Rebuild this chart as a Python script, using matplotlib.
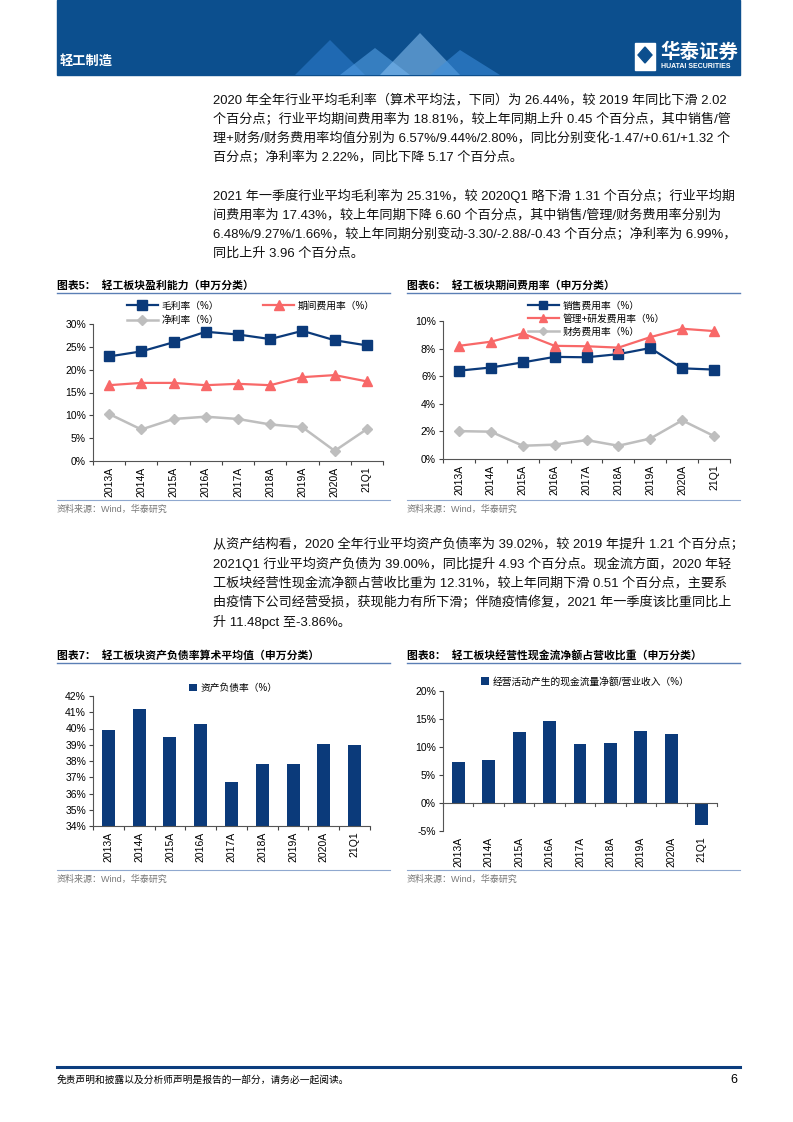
import matplotlib
matplotlib.use('Agg')
import matplotlib.pyplot as plt
from matplotlib.lines import Line2D
from matplotlib.patches import Polygon, Rectangle

plt.rcParams['font.family'] = ['Liberation Sans', 'Noto Sans CJK SC']
plt.rcParams['axes.unicode_minus'] = False

# 数据
years = ["2013A", "2014A", "2015A", "2016A", "2017A", "2018A", "2019A", "2020A", "21Q1"]
gross_margin = [22.9, 24.0, 26.0, 28.3, 27.7, 26.7, 28.5, 26.44, 25.31]
period_exp = [16.6, 17.1, 17.1, 16.6, 16.9, 16.6, 18.36, 18.81, 17.43]
net_margin = [10.3, 6.9, 9.2, 9.7, 9.2, 8.0, 7.39, 2.22, 6.99]
sales_exp = [6.4, 6.63, 7.0, 7.4, 7.37, 7.6, 8.04, 6.57, 6.48]
admin_rd_exp = [8.2, 8.5, 9.1, 8.2, 8.17, 8.07, 8.83, 9.44, 9.27]
fin_exp = [2.02, 1.98, 0.96, 1.04, 1.37, 0.96, 1.48, 2.80, 1.66]
debt_ratio = [39.88, 41.22, 39.45, 40.29, 36.71, 37.82, 37.81, 39.02, 39.00]
cash_ratio = [7.26, 7.68, 12.68, 14.58, 10.48, 10.65, 12.82, 12.31, -3.86]

para1 = ["2020 年全年行业平均毛利率（算术平均法，下同）为 26.44%，较 2019 年同比下滑 2.02",
         "个百分点；行业平均期间费用率为 18.81%，较上年同期上升 0.45 个百分点，其中销售/管",
         "理+财务/财务费用率均值分别为 6.57%/9.44%/2.80%，同比分别变化-1.47/+0.61/+1.32 个",
         "百分点；净利率为 2.22%，同比下降 5.17 个百分点。"]
para2 = ["2021 年一季度行业平均毛利率为 25.31%，较 2020Q1 略下滑 1.31 个百分点；行业平均期",
         "间费用率为 17.43%，较上年同期下降 6.60 个百分点，其中销售/管理/财务费用率分别为",
         "6.48%/9.27%/1.66%，较上年同期分别变动-3.30/-2.88/-0.43 个百分点；净利率为 6.99%，",
         "同比上升 3.96 个百分点。"]
para3 = ["从资产结构看，2020 全年行业平均资产负债率为 39.02%，较 2019 年提升 1.21 个百分点；",
         "2021Q1 行业平均资产负债为 39.00%，同比提升 4.93 个百分点。现金流方面，2020 年轻",
         "工板块经营性现金流净额占营收比重为 12.31%，较上年同期下滑 0.51 个百分点，主要系",
         "由疫情下公司经营受损，获现能力有所下滑；伴随疫情修复，2021 年一季度该比重同比上",
         "升 11.48pct 至-3.86%。"]

W, H = 793, 1122
NAVY = '#0B3A7A'
RED = '#F86868'
GRAY = '#BEBEBE'
LINEC = '#5B7FB5'

fig = plt.figure(figsize=(W / 100, H / 100), dpi=100)


def ax_px(l, t, r, b):
    return fig.add_axes([l / W, 1 - b / H, (r - l) / W, (b - t) / H])


def ftext(x, y, s, **kw):
    fig.text(x / W, 1 - y / H, s, **kw)


def hline(x0, x1, y, **kw):
    fig.add_artist(Line2D([x0 / W, x1 / W], [1 - y / H, 1 - y / H],
                          transform=fig.transFigure, **kw))


def style(ax, ylim, yticks):
    ax.set_xlim(-0.5, len(years) - 0.5)
    ax.set_ylim(*ylim)
    ax.set_yticks(yticks)
    ax.set_yticklabels([f'{v:.0f}%' for v in yticks], fontsize=7.5)
    ax.set_xticks(range(len(years)))
    ax.set_xticklabels(years, rotation=90, fontsize=7.5)
    ax.tick_params(axis='x', length=0, pad=4)
    ax.tick_params(axis='y', length=3, width=0.8, color='#444444', pad=2)
    ax.set_xticks([i - 0.5 for i in range(len(years) + 1)], minor=True)
    ax.tick_params(axis='x', which='minor', length=3, width=0.8, color='#444444')
    for s in ['top', 'right']:
        ax.spines[s].set_visible(False)
    for s in ['left', 'bottom']:
        ax.spines[s].set_color('#555555')
        ax.spines[s].set_linewidth(0.8)
    ax.patch.set_alpha(0)


# 页眉
fig.add_artist(Rectangle((57 / W, 1 - 75 / H), (740 - 57) / W, 75 / H,
                         transform=fig.transFigure, color='#0C4F8E', zorder=0))
tri = [[(295, 75), (330, 40), (365, 75)], [(340, 75), (375, 48), (410, 75)],
       [(380, 75), (420, 33), (460, 75)], [(430, 75), (460, 50), (500, 75)]]
for k, pts in enumerate(tri):
    fig.add_artist(Polygon([(x / W, 1 - y / H) for x, y in pts], closed=True,
                           transform=fig.transFigure,
                           color=['#2F7FD0', '#5AA5EA', '#8CC4F5', '#3C8EDD'][k],
                           alpha=0.55, lw=0))
ftext(60, 61, '轻工制造', color='white', fontsize=9.5, fontweight='bold', va='center')
fig.add_artist(Rectangle((635 / W, 1 - 70 / H), 20 / W, 27 / H,
                         transform=fig.transFigure, color='white', zorder=2))
fig.add_artist(Polygon([(x / W, 1 - y / H) for x, y in [(645, 47), (652, 55), (645, 63), (638, 55)]],
                       transform=fig.transFigure, color='#0C4F8E', zorder=3))
ftext(660, 52, '华泰证券', color='white', fontsize=14, fontweight='bold', va='center')
ftext(661, 67, 'HUATAI SECURITIES', color='white', fontsize=5, fontweight='bold', va='center')

# 正文段落
for lines, y0 in [(para1, 100), (para2, 196), (para3, 545)]:
    for i, s in enumerate(lines):
        ftext(213, y0 + i * 19.3, s, fontsize=9.45, va='center', color='#111111')

# 图表标题与分隔线
titles = [(57, 285, '图表5：  轻工板块盈利能力（申万分类）'),
          (407, 285, '图表6：  轻工板块期间费用率（申万分类）'),
          (57, 655, '图表7：  轻工板块资产负债率算术平均值（申万分类）'),
          (407, 655, '图表8：  轻工板块经营性现金流净额占营收比重（申万分类）')]
for x, y, s in titles:
    ftext(x, y, s, fontsize=7.8, fontweight='bold', va='center')
for x0, x1 in [(57, 390), (407, 740)]:
    for y in [293, 663]:
        hline(x0, x1, y, color=LINEC, lw=1)
    for y in [500, 870]:
        hline(x0, x1, y, color='#8FA8CF', lw=0.8)
    for y in [509, 879]:
        ftext(x0, y, '资料来源：Wind，华泰研究', fontsize=6.5, color='#777777', va='center')

# 图表5
ax5 = ax_px(93, 324, 383, 461)
x = range(len(years))
h1, = ax5.plot(x, gross_margin, color=NAVY, lw=1.6, marker='s', ms=6.5, label='毛利率（%）')
h2, = ax5.plot(x, period_exp, color=RED, lw=1.6, marker='^', ms=6.5, label='期间费用率（%）')
h3, = ax5.plot(x, net_margin, color=GRAY, lw=1.8, marker='D', ms=5, label='净利率（%）')
style(ax5, (0, 30), [0, 5, 10, 15, 20, 25, 30])
fig.legend(handles=[h1, h3, h2], ncol=2, loc='upper left',
           bbox_to_anchor=(122 / W, 1 - 296 / H), frameon=False, fontsize=7,
           handlelength=3.2, columnspacing=4.5, labelspacing=0.45, borderpad=0,
           handletextpad=0.4)

# 图表6
ax6 = ax_px(443, 321, 730, 459)
g1, = ax6.plot(x, sales_exp, color=NAVY, lw=1.6, marker='s', ms=6.5, label='销售费用率（%）')
g2, = ax6.plot(x, admin_rd_exp, color=RED, lw=1.6, marker='^', ms=6.5, label='管理+研发费用率（%）')
g3, = ax6.plot(x, fin_exp, color=GRAY, lw=1.8, marker='D', ms=5, label='财务费用率（%）')
style(ax6, (0, 10), [0, 2, 4, 6, 8, 10])
fig.legend(handles=[g1, g2, g3], loc='upper left',
           bbox_to_anchor=(523 / W, 1 - 296 / H), frameon=False, fontsize=7,
           handlelength=3.2, labelspacing=0.3, borderpad=0, handletextpad=0.4,
           markerscale=0.85)

# 图表7
ax7 = ax_px(93, 696, 370, 826)
ax7.bar(x, debt_ratio, width=0.42, color=NAVY, label='资产负债率（%）')
style(ax7, (34, 42), list(range(34, 43)))
ax7.legend(loc='upper left', bbox_to_anchor=(0.33, 1.14), frameon=False, fontsize=7,
           handlelength=0.8, handleheight=0.8, handletextpad=0.4, borderpad=0)

# 图表8
ax8 = ax_px(443, 691, 717, 831)
ax8.bar(x, cash_ratio, width=0.42, color=NAVY, label='经营活动产生的现金流量净额/营业收入（%）')
style(ax8, (-5, 20), [-5, 0, 5, 10, 15, 20])
ax8.spines['bottom'].set_visible(False)
ax8.tick_params(axis='x', which='minor', length=0)
ax8.axhline(0, color='#555555', lw=0.8)
for i in range(len(years) + 1):
    ax8.plot([i - 0.5, i - 0.5], [0, -0.6], color='#555555', lw=0.8, clip_on=False)
ax8.legend(loc='upper left', bbox_to_anchor=(0.12, 1.14), frameon=False, fontsize=7,
           handlelength=0.8, handleheight=0.8, handletextpad=0.4, borderpad=0)

# 页脚
hline(57, 740, 1067, color='#0C3D7E', lw=2.2)
ftext(57, 1080, '免责声明和披露以及分析师声明是报告的一部分，请务必一起阅读。',
      fontsize=7, va='center', fontstyle='italic')
ftext(737, 1080, '6', fontsize=9, va='center', ha='right')

fig.savefig('out.png', dpi=100)
